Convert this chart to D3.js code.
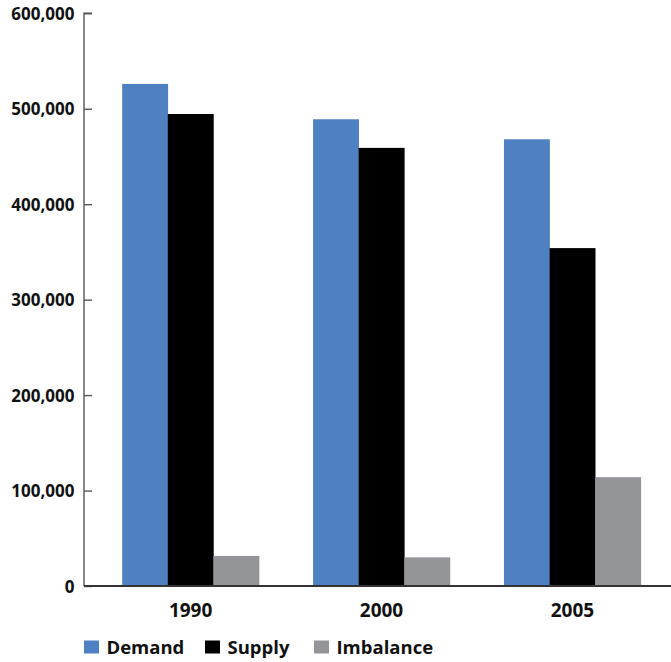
<!DOCTYPE html>
<html><head><meta charset="utf-8">
<script src="https://cdn.jsdelivr.net/npm/d3@7"></script>
<style>body{margin:0;background:#fff;} text{font-family:"Open Sans",sans-serif;font-weight:bold;}</style>
</head><body>
<svg id="c" width="671" height="662"></svg>
<script>
const categories = ["1990", "2000", "2005"];
const seriesNames = ["Demand", "Supply", "Imbalance"];
const demand = [526000, 489000, 468000];
const supply = [494500, 459000, 354000];
const imbalance = [31500, 30000, 114000];
const yTicks = [0, 100000, 200000, 300000, 400000, 500000, 600000];
const colors = ["#4f81c2", "#000000", "#939598"];

const series = [demand, supply, imbalance];
const svg = d3.select("#c");
const y = d3.scaleLinear().domain([0, 600000]).range([586, 13.3]);
const x = d3.scaleBand().domain(categories).range([84, 679]).paddingInner(0.283).paddingOuter(0.2);
const xs = d3.scaleBand().domain(seriesNames).range([0, x.bandwidth()]);

// bars
categories.forEach((c, i) => {
  seriesNames.forEach((s, j) => {
    svg.append("rect")
      .attr("x", x(c) + xs(s))
      .attr("y", y(series[j][i]))
      .attr("width", xs.bandwidth() + 0.3)
      .attr("height", y(0) - y(series[j][i]))
      .attr("fill", colors[j]);
  });
});

// y axis
const yAxis = d3.axisRight(y).tickValues(yTicks).tickSize(8).tickFormat("");
const ga = svg.append("g").attr("transform", "translate(84,0)").call(yAxis);
ga.selectAll("path").attr("stroke", "#555").attr("stroke-width", 1.4).attr("d", `M8,${y(600000)}H0V${y(0)}`);
ga.selectAll("line").attr("stroke", "#555").attr("stroke-width", 1.4);
svg.append("g").selectAll("text").data(yTicks).join("text")
  .attr("x", 74.5).attr("y", d => y(d) + 6.5).attr("text-anchor", "end")
  .attr("font-size", 17).attr("fill", "#111")
  .text(d => d3.format(",")(d));

// x axis
const xAxis = d3.axisBottom(x).tickSize(0).tickPadding(10);
const gx = svg.append("g").attr("transform", `translate(0,${y(0)})`).call(xAxis);
gx.select("path").attr("stroke", "#333").attr("stroke-width", 2).attr("d", `M84,0H671`);
gx.selectAll("text").attr("font-size", 19).attr("fill", "#111").attr("font-family", "Open Sans").attr("font-weight", "bold")
  .attr("dy", null).attr("y", 31);

// legend
const legX = [84, 205, 314];
const lg = svg.append("g").selectAll("g").data(seriesNames).join("g")
  .attr("transform", (d, i) => `translate(${legX[i]},640.5)`);
lg.append("rect").attr("width", 15).attr("height", 13).attr("fill", (d, i) => colors[i]);
lg.append("text").attr("x", 22.5).attr("y", 13).attr("font-size", 18.5).attr("fill", "#111").text(d => d);
</script>
</body></html>
